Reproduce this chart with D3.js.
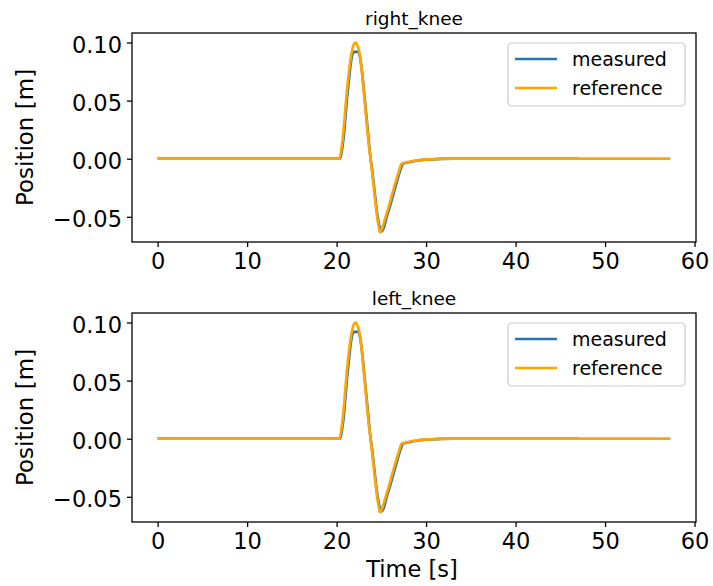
<!DOCTYPE html>
<html>
<head>
<meta charset="utf-8">
<script src="https://cdn.jsdelivr.net/npm/d3@7"></script>
<style>
  html, body { margin: 0; padding: 0; background: #fff; }
  svg { display: block; font-family: "DejaVu Sans", sans-serif; }
</style>
</head>
<body>
<svg id="chart" width="713" height="586"></svg>
<script>
// Joint panels, top to bottom
const joints = ["right_knee", "left_knee"];

// Measured knee position (time in s, position in m)
const measuredTime = [0, 20.35, 20.5, 20.65, 20.85, 21.0, 21.15, 21.35, 21.55, 21.75, 21.9, 22.45, 22.6, 22.8, 23.0, 23.2, 23.4, 23.6, 23.8, 23.95, 24.1, 24.3, 24.5, 24.7, 24.9, 25.05, 25.25, 25.6, 26.0, 26.4, 26.8, 27.2, 27.4, 27.8, 28.2, 29.0, 29.7, 30.7, 31.7, 33.0, 47.0];
const measuredPos = [0, 0, 0.003, 0.010, 0.023, 0.037, 0.051, 0.066, 0.080, 0.089, 0.092, 0.092, 0.088, 0.078, 0.063, 0.047, 0.031, 0.015, 0.000, -0.008, -0.018, -0.032, -0.045, -0.055, -0.061, -0.0625, -0.060, -0.050, -0.040, -0.029, -0.018, -0.008, -0.0045, -0.0035, -0.0028, -0.0017, -0.0010, -0.0005, -0.0002, 0, 0];

// Reference knee trajectory
const referenceTime = [0, 20.3, 20.45, 20.6, 20.8, 20.95, 21.1, 21.3, 21.5, 21.7, 21.9, 22.15, 22.4, 22.6, 22.8, 23.0, 23.2, 23.4, 23.6, 23.75, 23.9, 24.1, 24.3, 24.5, 24.7, 24.86, 25.05, 25.4, 25.8, 26.2, 26.6, 27.0, 27.25, 27.6, 28.0, 28.8, 29.5, 30.5, 31.5, 33.0, 57.3];
const referencePos = [0, 0, 0.004, 0.012, 0.026, 0.040, 0.054, 0.069, 0.082, 0.092, 0.098, 0.100, 0.096, 0.089, 0.077, 0.061, 0.045, 0.028, 0.012, 0.003, -0.007, -0.021, -0.035, -0.048, -0.058, -0.0635, -0.061, -0.052, -0.042, -0.031, -0.020, -0.010, -0.0045, -0.0035, -0.0028, -0.0017, -0.0010, -0.0005, -0.0002, 0, 0];

// Axis ticks
const xTicks = [0, 10, 20, 30, 40, 50, 60];
const yTicks = [-0.05, 0.00, 0.05, 0.10];

const seriesNames = ["measured", "reference"];
const seriesColors = ["#1f77b4", "#ffa500"];

const measured = measuredTime.map((t, i) => ({ t, v: measuredPos[i] }));
const reference = referenceTime.map((t, i) => ({ t, v: referencePos[i] }));
const series = [measured, reference];

const svg = d3.select("#chart");
const plot = { left: 132, right: 696, top: 33, height: 209, gap: 280 };

// 5% padding around data extent on both axes
function padded(ext) {
  const m = (ext[1] - ext[0]) * 0.05;
  return [ext[0] - m, ext[1] + m];
}
const allT = measuredTime.concat(referenceTime);
const allV = measuredPos.concat(referencePos);
const xDomain = padded(d3.extent(allT));
const yDomain = padded(d3.extent(allV));

const fmtY = v => d3.format(".2f")(v).replace("-", "\u2212");

joints.forEach((name, k) => {
  const top = plot.top + k * plot.gap;
  const bottom = top + plot.height;
  const x = d3.scaleLinear().domain(xDomain).range([plot.left, plot.right]);
  const y = d3.scaleLinear().domain(yDomain).range([bottom, top]);

  const g = svg.append("g");

  // Data lines
  const line = d3.line().x(d => x(d.t)).y(d => y(d.v)).curve(d3.curveMonotoneX);
  series.forEach((s, i) => {
    g.append("path")
      .datum(s)
      .attr("d", line)
      .attr("fill", "none")
      .attr("stroke", seriesColors[i])
      .attr("stroke-width", 2.7)
      .attr("stroke-linejoin", "round")
      .attr("stroke-linecap", "butt");
  });

  // Axes
  const xAxis = d3.axisBottom(x).tickValues(xTicks).tickSize(5).tickPadding(6).tickFormat(d3.format("d"));
  const yAxis = d3.axisLeft(y).tickValues(yTicks).tickSize(5).tickPadding(5).tickFormat(fmtY);

  const gx = g.append("g").attr("transform", `translate(0,${bottom})`).call(xAxis);
  const gy = g.append("g").attr("transform", `translate(${plot.left},0)`).call(yAxis);
  [gx, gy].forEach(a => {
    a.select(".domain").remove();
    a.selectAll(".tick line").attr("stroke", "#000").attr("stroke-width", 1.3);
    a.selectAll(".tick text").attr("fill", "#000").style("font-size", "22.5px").style("font-family", "DejaVu Sans");
  });
  gx.selectAll(".tick text").attr("dy", "0.71em");
  gy.selectAll(".tick text").attr("dy", "0.45em");

  // Frame
  g.append("rect")
    .attr("x", plot.left).attr("y", top)
    .attr("width", plot.right - plot.left).attr("height", plot.height)
    .attr("fill", "none").attr("stroke", "#000").attr("stroke-width", 1.3);

  // Title
  g.append("text")
    .attr("x", (plot.left + plot.right) / 2).attr("y", top - 8)
    .attr("text-anchor", "middle")
    .style("font-size", "18.5px")
    .text(name);

  // Y label
  g.append("text")
    .attr("transform", `translate(33,${(top + bottom) / 2}) rotate(-90)`)
    .attr("text-anchor", "middle")
    .style("font-size", "23px")
    .text("Position [m]");

  // Legend
  const lg = g.append("g").attr("transform", `translate(508,${top + 10})`);
  lg.append("rect")
    .attr("x", 0).attr("y", 0).attr("width", 177).attr("height", 63)
    .attr("rx", 4).attr("fill", "#fff").attr("fill-opacity", 0.8)
    .attr("stroke", "#cccccc").attr("stroke-width", 1.2);
  seriesNames.forEach((s, i) => {
    const ly = 16 + i * 29;
    lg.append("line")
      .attr("x1", 7).attr("x2", 49).attr("y1", ly).attr("y2", ly)
      .attr("stroke", seriesColors[i]).attr("stroke-width", 2.7);
    lg.append("text")
      .attr("x", 64).attr("y", ly + 6.5)
      .style("font-size", "19px")
      .text(s);
  });

  // X label on the bottom panel only
  if (k === joints.length - 1) {
    g.append("text")
      .attr("x", (plot.left + plot.right) / 2 - 2).attr("y", 577)
      .attr("text-anchor", "middle")
      .style("font-size", "22.5px")
      .text("Time [s]");
  }
});
</script>
</body>
</html>
